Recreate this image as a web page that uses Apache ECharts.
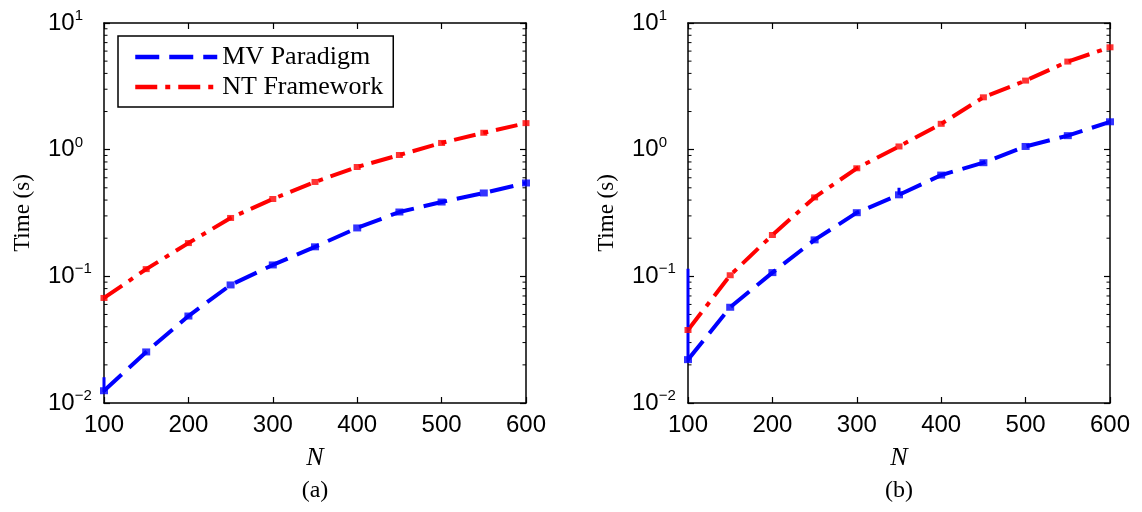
<!DOCTYPE html>
<html><head><meta charset="utf-8">
<script src="https://cdn.jsdelivr.net/npm/echarts@6/dist/echarts.min.js"></script>
<style>html,body{margin:0;padding:0;background:#fff}#c{width:1142px;height:512px}</style>
</head><body><div id="c"></div>
<script>
// ---- data ----
const N = [100, 150, 200, 250, 300, 350, 400, 450, 500, 550, 600];
const mvA = [0.0125, 0.0253, 0.0486, 0.0855, 0.123, 0.171, 0.241, 0.322, 0.386, 0.455, 0.546];
const ntA = [0.0675, 0.114, 0.183, 0.289, 0.408, 0.556, 0.73, 0.908, 1.13, 1.36, 1.62];
const mvB = [0.022, 0.057, 0.107, 0.194, 0.318, 0.44, 0.63, 0.789, 1.06, 1.29, 1.66];
const ntB = [0.0377, 0.102, 0.212, 0.42, 0.713, 1.06, 1.60, 2.59, 3.51, 4.96, 6.43];
// vertical bar segments seen in the figure (x, y)
const barsA = [[100, 0.0122], [100, 0.016]];
const barsB = [[100, 0.021], [100, 0.115], [350, '-'], [350, 0.44], [350, 0.50]];
const seriesNames = ['MV Paradigm', 'NT Framework'];
const panelLabels = ['(a)', '(b)'];
const xMin = 100, xMax = 600, xStep = 100;
const yMin = 0.01, yMax = 10;
const minorMantissas = [2, 3, 4, 5, 6, 7, 8, 9];
const minorDecades = [0.01, 0.1, 1];

const BLUE = '#0000ff', RED = '#ff0000';
const SANS = 'Liberation Sans', SERIF = 'Liberation Serif';
const minorVals = [];
minorDecades.forEach(d => minorMantissas.forEach(m => minorVals.push(+(m * d).toPrecision(3))));

const grids = [{left: 104, top: 23, width: 422, height: 380}, {left: 688, top: 23, width: 422, height: 380}];

const axisLine = {show: true, lineStyle: {color: '#000', width: 1.5}};
function xAxes(g) {
  return [{
    gridIndex: g, type: 'value', position: 'bottom', min: xMin, max: xMax, interval: xStep,
    axisLine, axisTick: {inside: true, length: 6, lineStyle: {color: '#000', width: 1.2}},
    axisLabel: {margin: 10, fontSize: 24, fontFamily: SANS, color: '#000'},
    splitLine: {show: false},
    name: 'N', nameLocation: 'middle', nameGap: 42,
    nameTextStyle: {fontFamily: SERIF, fontStyle: 'italic', fontSize: 26, color: '#000'}
  }, {
    gridIndex: g, type: 'value', position: 'top', min: xMin, max: xMax, interval: xStep,
    axisLine, axisTick: {inside: true, length: 6, lineStyle: {color: '#000', width: 1.2}},
    axisLabel: {show: false}, splitLine: {show: false}
  }];
}
function fmtExp(v) {
  const e = Math.round(Math.log10(v));
  return '{b|10}{e|' + (e < 0 ? '\u2212' + (-e) : e) + '}';
}
function yAxes(g) {
  return [{
    gridIndex: g, type: 'log', logBase: 10, min: yMin, max: yMax, position: 'left',
    axisLine, axisTick: {inside: true, length: 6, lineStyle: {color: '#000', width: 1.2}},
    axisLabel: {margin: 56, align: 'left', formatter: fmtExp,
      rich: {b: {fontSize: 24, fontFamily: SANS, color: '#000'},
             e: {fontSize: 15, fontFamily: SANS, color: '#000', padding: [0, 0, 14, 0]}}},
    splitLine: {show: false},
    name: 'Time (s)', nameLocation: 'middle', nameGap: 70, nameRotate: 90,
    nameTextStyle: {fontFamily: SERIF, fontSize: 23, color: '#000'}
  }, {
    gridIndex: g, type: 'log', logBase: 10, min: yMin, max: yMax, position: 'right',
    axisLine, axisTick: {inside: true, length: 6, lineStyle: {color: '#000', width: 1.2}},
    axisLabel: {show: false}, splitLine: {show: false}
  }];
}
function minorTicks(xi, yi) {
  return {
    type: 'custom', xAxisIndex: xi, yAxisIndex: yi, silent: true, z: 1, clip: false,
    data: minorVals.map(v => [xMin, v]),
    renderItem: (params, api) => {
      const v = api.value(1);
      const L = api.coord([xMin, v]), R = api.coord([xMax, v]);
      return {type: 'group', children: [
        {type: 'line', shape: {x1: L[0], y1: L[1], x2: L[0] + 3.5, y2: L[1]}, style: {stroke: '#000', lineWidth: 1}},
        {type: 'line', shape: {x1: R[0], y1: R[1], x2: R[0] - 3.5, y2: R[1]}, style: {stroke: '#000', lineWidth: 1}}
      ]};
    }
  };
}
const mvStyle = {color: BLUE, width: 4, type: [24, 10], cap: 'butt'};
const ntStyle = {color: RED, width: 4, type: [22, 8, 5, 8], cap: 'butt'};
function panelSeries(g, mv, nt, bars) {
  const xi = g * 2, yi = g * 2;
  const pairs = arr => N.map((n, i) => [n, arr[i]]);
  return [
    minorTicks(xi, yi),
    {type: 'line', name: seriesNames[0], xAxisIndex: xi, yAxisIndex: yi, data: pairs(mv),
      symbol: 'none', lineStyle: mvStyle, itemStyle: {color: BLUE}, z: 3},
    {type: 'line', name: seriesNames[1], xAxisIndex: xi, yAxisIndex: yi, data: pairs(nt),
      symbol: 'none', lineStyle: ntStyle, itemStyle: {color: RED}, z: 3},
    {type: 'line', name: 'bars' + g, xAxisIndex: xi, yAxisIndex: yi, data: bars, connectNulls: false,
      symbol: 'none', lineStyle: {color: BLUE, width: 3}, z: 3},
    {type: 'scatter', name: 'mvm' + g, xAxisIndex: xi, yAxisIndex: yi, data: pairs(mv),
      symbol: 'rect', symbolSize: [8, 7], itemStyle: {color: BLUE}, z: 4},
    {type: 'scatter', name: 'ntm' + g, xAxisIndex: xi, yAxisIndex: yi, data: pairs(nt),
      symbol: 'rect', symbolSize: [7, 6], itemStyle: {color: RED}, z: 4}
  ];
}

const chart = echarts.init(document.getElementById('c'), null, {renderer: 'canvas'});
chart.setOption({
  animation: false,
  backgroundColor: '#fff',
  grid: grids,
  xAxis: [...xAxes(0), ...xAxes(1)],
  yAxis: [...yAxes(0), ...yAxes(1)],
  legend: {
    data: seriesNames, orient: 'vertical', left: 118, top: 36,
    padding: [8, 10, 7, 15], itemWidth: 82, itemHeight: 20, itemGap: 4,
    borderColor: '#000', borderWidth: 1.5, backgroundColor: '#fff', selectedMode: false,
    itemStyle: {opacity: 0},
    lineStyle: {width: 4.5},
    textStyle: {fontSize: 26, fontFamily: SERIF, color: '#000'}
  },
  graphic: panelLabels.map((t, g) => ({
    type: 'text', x: grids[g].left + grids[g].width / 2, y: 491,
    style: {text: t, fontSize: 24, fontFamily: SERIF, fill: '#000', align: 'center', verticalAlign: 'middle'}
  })),
  series: [...panelSeries(0, mvA, ntA, barsA), ...panelSeries(1, mvB, ntB, barsB)]
});
</script>
</body></html>
